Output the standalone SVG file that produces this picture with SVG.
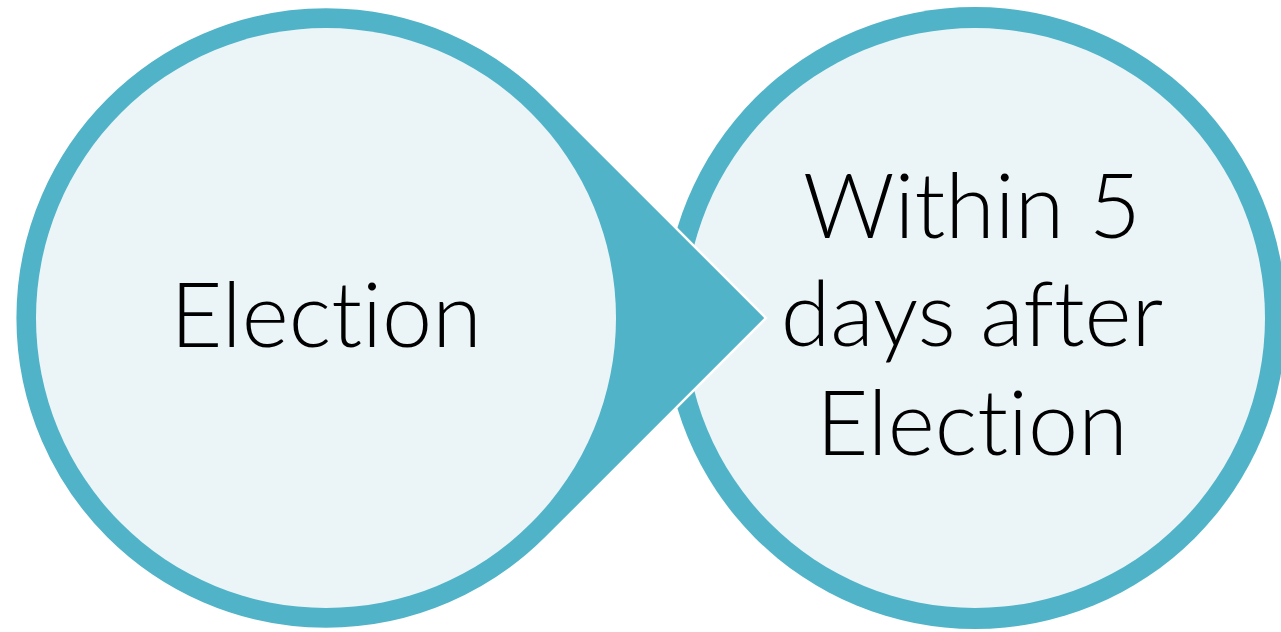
<svg xmlns="http://www.w3.org/2000/svg" width="1281" height="632" viewBox="0 0 1281 632">
<style>
.ring{fill:#50B3C8}
.inner{fill:#EBF5F8}
.lbl{font-family:Lato,"Liberation Sans",sans-serif;font-weight:300;font-size:90px;fill:#000;text-anchor:middle;font-variant-ligatures:none;font-feature-settings:"liga" 0,"clig" 0}
</style>
<rect width="1281" height="632" fill="#fff"/>
<g id="node-within">
<circle class="ring" cx="975" cy="318" r="311"/>
<circle class="inner" cx="975" cy="318" r="290"/>
<text class="lbl" x="972" y="238">Within 5</text>
<text class="lbl" x="972" y="346">days after</text>
<text class="lbl" x="972" y="455">Election</text>
</g>
<g id="connectors">
<path class="ring" d="M546,98 L766,318 L546,538 A311,311 0 1 1 546,98 Z" stroke="#fff" stroke-width="2.5" stroke-linejoin="miter"/>
</g>
<g id="node-election">
<circle class="inner" cx="326" cy="318" r="290"/>
<text class="lbl" x="326" y="347">Election</text>
</g>
</svg>
